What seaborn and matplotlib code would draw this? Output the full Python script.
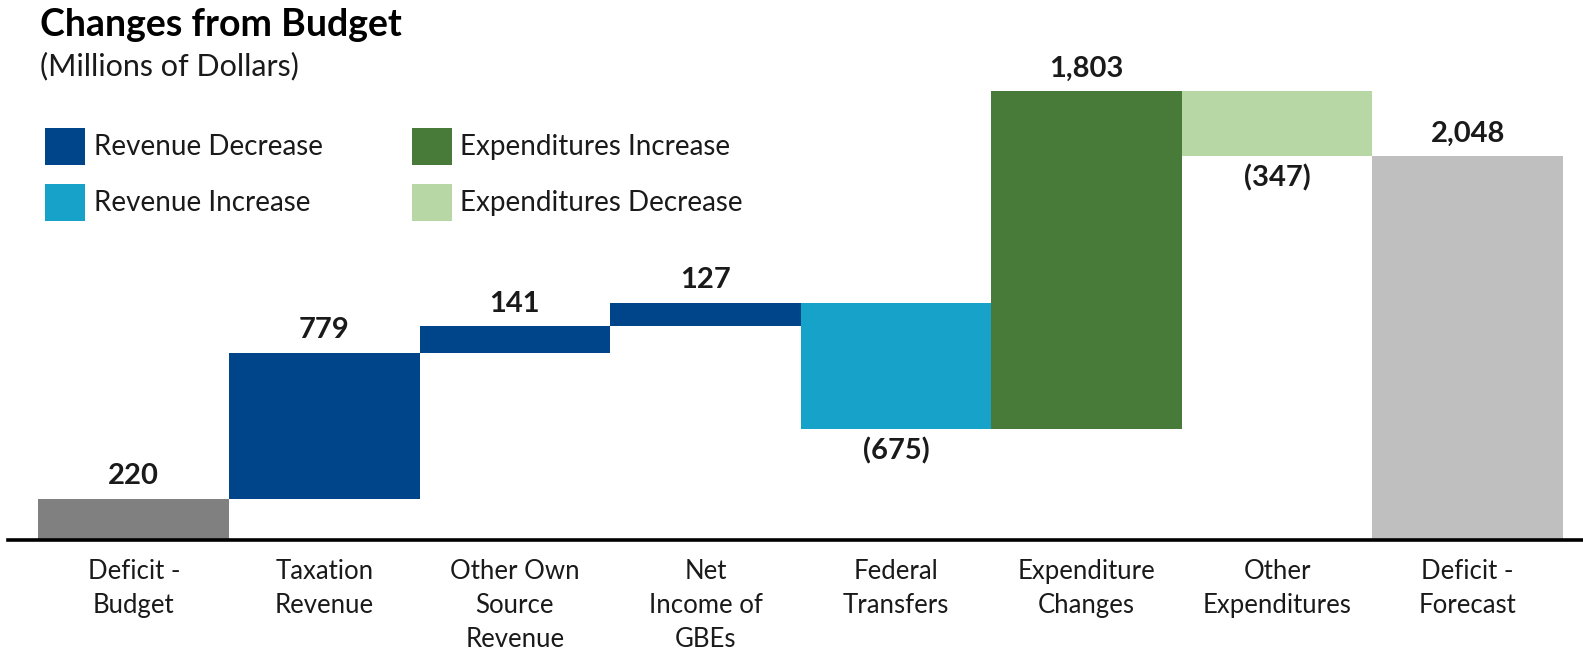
import matplotlib
matplotlib.use("Agg")
import matplotlib.pyplot as plt
from matplotlib.patches import Patch
import pandas as pd
import seaborn as sns

# data
items = ["Deficit -\nBudget", "Taxation\nRevenue", "Other Own\nSource\nRevenue",
         "Net\nIncome of\nGBEs", "Federal\nTransfers", "Expenditure\nChanges",
         "Other\nExpenditures", "Deficit -\nForecast"]
changes = [220, 779, 141, 127, -675, 1803, -347, 2048]
is_total = [True, False, False, False, False, False, False, True]
labels = ["220", "779", "141", "127", "(675)", "1,803", "(347)", "2,048"]
kinds = ["Budget", "Revenue Decrease", "Revenue Decrease", "Revenue Decrease",
         "Revenue Increase", "Expenditures Increase", "Expenditures Decrease", "Forecast"]

colors = {"Budget": "#808080", "Forecast": "#bfbfbf",
          "Revenue Decrease": "#00448a", "Revenue Increase": "#16a2c9",
          "Expenditures Increase": "#487b39", "Expenditures Decrease": "#b7d7a4"}

# waterfall bottoms / heights
bottoms, heights = [], []
running = 0
for ch, tot in zip(changes, is_total):
    if tot:
        bottoms.append(0)
        heights.append(ch)
        running = ch
    else:
        lo = min(running, running + ch)
        bottoms.append(lo)
        heights.append(abs(ch))
        running += ch

df = pd.DataFrame({"item": items, "height": heights, "bottom": bottoms, "kind": kinds})

sns.set_style("white")
plt.rcParams["font.family"] = ["Lato", "DejaVu Sans"]
txt = "#1a1a1a"

fig = plt.figure(figsize=(15.83, 6.53), dpi=100)
ax = fig.add_axes([8 / 1583, 113 / 653, 1575 / 1583, 540 / 653])

sns.barplot(data=df, x="item", y="height", bottom=df["bottom"].values, color="#808080",
            width=1.0, errorbar=None, linewidth=0, saturation=1, ax=ax)
for patch, k in zip(ax.patches, df["kind"]):
    patch.set_facecolor(colors[k])

# value labels
for i, (b, h, ch, tot, lab) in enumerate(zip(bottoms, heights, changes, is_total, labels)):
    if ch >= 0:
        ax.annotate(lab, (i, b + h), xytext=(0, 7), textcoords="offset points",
                    ha="center", va="bottom", fontsize=21, fontweight="bold", color=txt)
    else:
        ax.annotate(lab, (i, b), xytext=(0, -6), textcoords="offset points",
                    ha="center", va="top", fontsize=21, fontweight="bold", color=txt)

ax.set_xlim(-0.66, 7.605)
ax.set_ylim(0, 2882)
ax.set_yticks([])
ax.set_xlabel("")
ax.set_ylabel("")
ax.set_xticks(range(len(items)))
ax.set_xticklabels(items, fontsize=18.5, color=txt, linespacing=1.45)
ax.tick_params(axis="x", length=0, pad=14)
for s in ["top", "left", "right"]:
    ax.spines[s].set_visible(False)
ax.spines["bottom"].set_linewidth(2.6)
ax.spines["bottom"].set_color("black")
ax.spines["bottom"].set_zorder(5)

# titles
fig.text(40 / 1583, 1 - 8 / 653, "Changes from Budget", fontsize=27, fontweight="bold",
         color="black", ha="left", va="top")
fig.text(40 / 1583, 1 - 52 / 653, "(Millions of Dollars)", fontsize=22,
         color=txt, ha="left", va="top")

# legend
order = ["Revenue Decrease", "Revenue Increase", "Expenditures Increase", "Expenditures Decrease"]
handles = [Patch(facecolor=colors[k], edgecolor="none", label=k) for k in order]
fig.legend(handles=handles, ncol=2, loc="upper left",
           bbox_to_anchor=(45 / 1583, 1 - 128 / 653), frameon=False,
           fontsize=20, handlelength=1.45, handleheight=1.65, handletextpad=0.3,
           labelspacing=0.7, columnspacing=3.2, borderpad=0, borderaxespad=0,
           labelcolor=txt)

fig.savefig("out.png", dpi=100)
